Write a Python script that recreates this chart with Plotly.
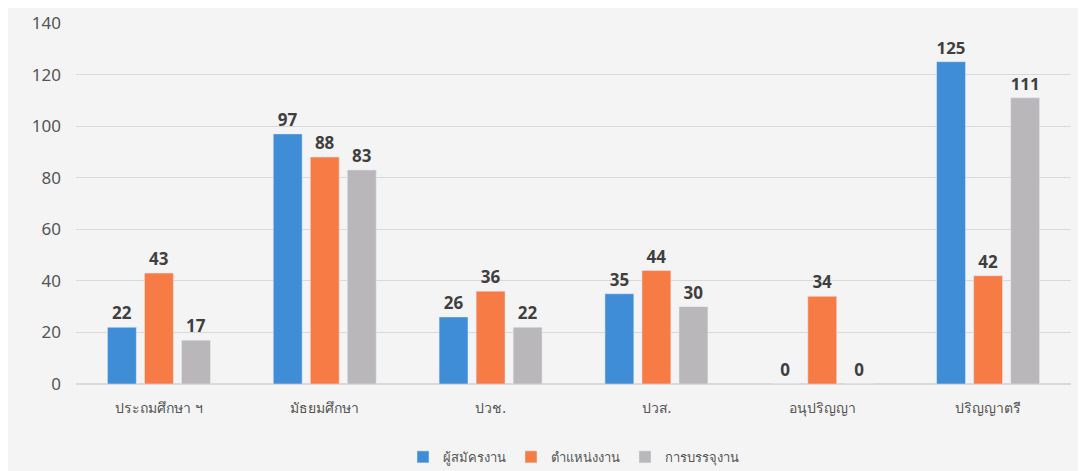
import plotly.graph_objects as go

categories = ["ประถมศึกษา ฯ", "มัธยมศึกษา", "ปวช.", "ปวส.", "อนุปริญญา", "ปริญญาตรี"]
series_names = ["ผู้สมัครงาน", "ตำแหน่งงาน", "การบรรจุงาน"]
applicants = [22, 97, 26, 35, 0, 125]
positions = [43, 88, 36, 44, 34, 42]
placements = [17, 83, 22, 30, 0, 111]
y_ticks = [0, 20, 40, 60, 80, 100, 120, 140]

colors = ["#3f8dd6", "#f77b45", "#b9b7b9"]

fig = go.Figure()
for name, vals, c in zip(series_names, [applicants, positions, placements], colors):
    fig.add_trace(go.Bar(
        x=categories, y=vals, name=name, marker_color=c,
        text=[str(v) for v in vals], textposition="outside",
        texttemplate="<b>%{text}</b>",
        textfont=dict(size=17, color="#3f3f3f"), cliponaxis=False,
    ))

fig.update_layout(
    width=1086, height=471,
    paper_bgcolor="#f4f4f4", plot_bgcolor="#f4f4f4",
    margin=dict(l=68, r=23, t=15, b=95, autoexpand=False),
    barmode="group", bargap=0.33, bargroupgap=0.22,
    font=dict(family="Noto Sans, DejaVu Sans, sans-serif", color="#555555"),
    legend=dict(orientation="h", x=0.5, xanchor="center", yref="container", y=0.015, yanchor="bottom",
                font=dict(size=13, color="#555555"), traceorder="normal", itemwidth=30),
    xaxis=dict(tickfont=dict(size=14, color="#555555"), showline=False, ticks="",
               ticklabelstandoff=14),
    yaxis=dict(range=[0, 140], tickvals=y_ticks, tickfont=dict(size=17, color="#555555"),
               gridcolor="#d9d9d9", zeroline=True, zerolinecolor="#d9d9d9", ticks="",
               ticklabelstandoff=14),
)
fig.write_html("out.html")
